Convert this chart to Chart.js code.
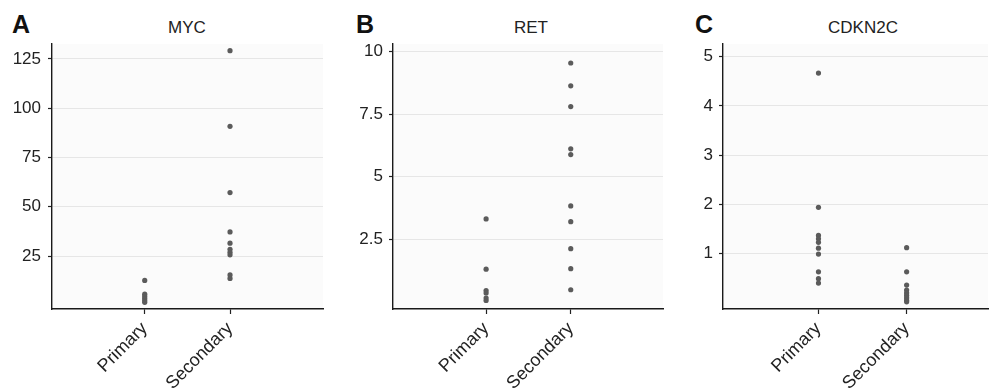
<!DOCTYPE html>
<html>
<head>
<meta charset="utf-8">
<script src="https://cdn.jsdelivr.net/npm/chart.js@4/dist/chart.umd.min.js"></script>
<style>
  html, body { margin:0; padding:0; background:#fff; overflow:hidden; }
  body { width:992px; height:388px; position:relative; font-family:"Liberation Sans", Arial, Helvetica, sans-serif; }
  canvas { position:absolute; top:0; }
  .lab { position:absolute; font-weight:bold; font-size:25px; line-height:25px; color:#111; }
  .ttl { position:absolute; font-size:17px; line-height:17px; color:#222; width:200px; text-align:center; }
</style>
</head>
<body>
<div class="lab" style="left:12px; top:12px;">A</div>
<div class="lab" style="left:356px; top:12px;">B</div>
<div class="lab" style="left:695px; top:12px;">C</div>
<div class="ttl" style="left:87px; top:19px;">MYC</div>
<div class="ttl" style="left:431px; top:19px;">RET</div>
<div class="ttl" style="left:763px; top:19px;">CDKN2C</div>
<canvas id="cA" width="330" height="388" style="left:0px;"></canvas>
<canvas id="cB" width="327" height="388" style="left:340px;"></canvas>
<canvas id="cC" width="322" height="388" style="left:670px;"></canvas>
<script>
// ---- data ----
const categories = ["Primary", "Secondary"];

const mycPrimary   = [12.6, 5.6, 4.5, 3.4, 2.4, 1.5];
const mycSecondary = [129.2, 90.8, 57.2, 37.2, 31.5, 28.4, 26.9, 25.6, 15.4, 13.6];
const mycTicks     = [25, 50, 75, 100, 125];

const retPrimary   = [3.31, 1.3, 0.45, 0.35, 0.15, 0.05];
const retSecondary = [9.54, 8.63, 7.8, 6.11, 5.88, 3.83, 3.2, 2.12, 1.32, 0.48];
const retTicks     = [2.5, 5, 7.5, 10];

const cdkPrimary   = [4.67, 1.94, 1.37, 1.30, 1.23, 1.11, 0.99, 0.63, 0.49, 0.40];
const cdkSecondary = [1.12, 0.63, 0.36, 0.26, 0.2, 0.15, 0.1, 0.05, 0.02];
const cdkTicks     = [1, 2, 3, 4, 5];

// ---- helpers ----
const FONT = '"Liberation Sans", Arial, Helvetica, sans-serif';
const bgPlugin = {
  id: 'plotBg',
  beforeDraw(chart) {
    const a = chart.chartArea, ctx = chart.ctx;
    ctx.save();
    ctx.fillStyle = '#fbfbfb';
    ctx.fillRect(a.left, a.top, a.right - a.left, a.bottom - a.top);
    ctx.restore();
  }
};

function makePanel(id, primary, secondary, yTicks, cfg) {
  const pts = [];
  primary.forEach(v => pts.push({x: 1, y: v}));
  secondary.forEach(v => pts.push({x: 2, y: v}));
  new Chart(document.getElementById(id), {
    type: 'scatter',
    data: { datasets: [{
      data: pts,
      pointRadius: 2.6,
      pointBackgroundColor: '#5b5b5b',
      pointBorderWidth: 0,
      borderWidth: 0
    }]},
    plugins: [bgPlugin],
    options: {
      responsive: false,
      animation: false,
      devicePixelRatio: 1,
      layout: { padding: { top: 44, right: cfg.padRight, left: 0, bottom: 0 } },
      plugins: { legend: { display: false }, tooltip: { enabled: false }, title: { display: false } },
      scales: {
        x: {
          type: 'linear',
          bounds: 'data',
          min: cfg.xMin, max: cfg.xMax,
          afterBuildTicks(s) { s.ticks = [{value: 1}, {value: 2}]; },
          afterFit(s) { s.height = 79; },
          grid: { drawOnChartArea: false, drawTicks: true, tickLength: 5, tickColor: '#222', tickWidth: 1.2 },
          border: { color: '#1a1a1a', width: 1.4 },
          ticks: {
            autoSkip: false,
            minRotation: 45, maxRotation: 45,
            padding: 4,
            color: '#222',
            font: { family: FONT, size: 18 },
            callback: v => categories[v - 1]
          }
        },
        y: {
          type: 'linear',
          bounds: 'data',
          min: cfg.yMin, max: cfg.yMax,
          afterBuildTicks(s) { s.ticks = yTicks.map(v => ({value: v})); },
          afterFit(s) { s.width = cfg.yWidth; },
          grid: { color: '#e6e6e6', lineWidth: 1, drawTicks: true, tickLength: 4, tickColor: '#222', tickWidth: 1.2 },
          border: { color: '#1a1a1a', width: 1.4 },
          ticks: {
            padding: cfg.tickPad,
            color: '#222',
            font: { family: FONT, size: 17 },
            callback: v => String(v)
          }
        }
      }
    }
  });
}

makePanel('cA', mycPrimary, mycSecondary, mycTicks,
  { xMin: -0.087, xMax: 3.09, yMin: -1.9, yMax: 132.6, yWidth: 52, padRight: 7, tickPad: 7 });
makePanel('cB', retPrimary, retSecondary, retTicks,
  { xMin: -0.1, xMax: 3.09, yMin: -0.29, yMax: 10.3, yWidth: 53, padRight: 0, tickPad: 6 });
makePanel('cC', cdkPrimary, cdkSecondary, cdkTicks,
  { xMin: -0.083, xMax: 2.923, yMin: -0.126, yMax: 5.26, yWidth: 53, padRight: 0, tickPad: 6 });
</script>
</body>
</html>
